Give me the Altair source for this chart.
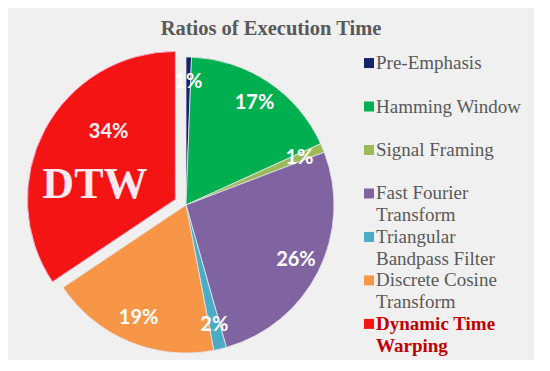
import altair as alt
import pandas as pd

names = ["Pre-Emphasis", "Hamming Window", "Signal Framing", "Fast Fourier Transform",
         "Triangular Bandpass Filter", "Discrete Cosine Transform", "Dynamic Time Warping"]
values = [0.6, 17.6, 1.0, 26.4, 1.4, 18.6, 34.4]
pct_labels = ["1%", "17%", "1%", "26%", "2%", "19%", "34%"]
legend_lines = [["Pre-Emphasis"], ["Hamming Window"], ["Signal Framing"],
                ["Fast Fourier", "Transform"], ["Triangular", "Bandpass Filter"],
                ["Discrete Cosine", "Transform"], ["Dynamic Time", "Warping"]]
colors = ["#14246a", "#00b050", "#9bbb59", "#8064a2", "#4bacc6", "#f79646", "#f51414"]
legend_colors = ["#14246a", "#3f9a5e", "#9bbb59", "#7b68a8", "#4f9fcf", "#d9a050", "#9a3a2a"]

SERIF = "Liberation Serif"

df = pd.DataFrame({
    "name": names,
    "value": values,
    "label": pct_labels,
    "lines": legend_lines,
    "order": list(range(len(names))),
})

DTW = "Dynamic Time Warping"
R = 148
EX, EY = -10.6, -5.6

base = alt.Chart(df).transform_window(
    cum="sum(value)", sort=[alt.SortField("order")], frame=[None, 0]
).transform_calculate(
    start="datum.cum - datum.value",
    mid="datum.cum - datum.value / 2",
)

theta_scale = alt.Scale(domain=[0, 100])
color_enc = alt.Color("name:N", scale=alt.Scale(domain=names, range=colors), legend=None)

pie_rest = base.transform_filter(alt.datum.name != DTW).mark_arc(
    radius=R, stroke="#e6e6ee", strokeWidth=0.8
).encode(
    theta=alt.Theta("start:Q", scale=theta_scale),
    theta2="cum:Q",
    color=color_enc,
)

pie_dtw = base.transform_filter(alt.datum.name == DTW).mark_arc(
    radius=R, xOffset=EX, yOffset=EY, stroke="#f4b0d0", strokeWidth=1
).encode(
    theta=alt.Theta("start:Q", scale=theta_scale),
    theta2="cum:Q",
    color=color_enc,
)

lbl_rest = base.transform_filter(alt.datum.name != DTW).mark_text(
    radius=123, font="Lato", fontSize=20, fontWeight="bold", color="white",
    align="center", baseline="middle"
).encode(
    theta=alt.Theta("mid:Q", scale=theta_scale),
    text="label:N",
)

lbl_dtw = base.transform_filter(alt.datum.name == DTW).mark_text(
    radius=95, xOffset=EX, yOffset=EY, dx=17, dy=-23, font="Lato", fontSize=20,
    fontWeight="bold", color="#fdf0f4", align="center", baseline="middle"
).encode(
    theta=alt.Theta("mid:Q", scale=theta_scale),
    text="label:N",
)

big_dtw = base.transform_filter(alt.datum.name == DTW).mark_text(
    radius=81, xOffset=EX, yOffset=EY, dx=-9, dy=24, font=SERIF, fontSize=44,
    fontWeight="bold", color="#fde8f0", align="center", baseline="middle"
).encode(
    theta=alt.Theta("mid:Q", scale=theta_scale),
    text=alt.value("DTW"),
)

pie = alt.layer(pie_rest, pie_dtw, lbl_rest, lbl_dtw, big_dtw).properties(width=356, height=310)

y_enc = alt.Y("order:Q", scale=alt.Scale(domain=[-0.3, 6.83], reverse=True), axis=None)

leg_sq = alt.Chart(df).mark_square(size=100, opacity=1).encode(
    x=alt.value(5),
    y=y_enc,
    color=alt.Color("name:N", scale=alt.Scale(domain=names, range=legend_colors), legend=None),
)
leg_txt = alt.Chart(df).transform_filter(alt.datum.name != DTW).mark_text(
    align="left", baseline="alphabetic", dy=6, font=SERIF, fontSize=19,
    color="#595959", lineHeight=22
).encode(x=alt.value(12), y=y_enc, text="lines")
leg_txt_dtw = alt.Chart(df).transform_filter(alt.datum.name == DTW).mark_text(
    align="left", baseline="alphabetic", dy=6, font=SERIF, fontSize=19,
    fontWeight="bold", color="#c00000", lineHeight=22
).encode(x=alt.value(12), y=y_enc, text="lines")

legend = alt.layer(leg_sq, leg_txt, leg_txt_dtw).properties(width=170, height=310)

chart = alt.hconcat(pie, legend, spacing=0).properties(
    title=alt.TitleParams(
        "Ratios of Execution Time", font=SERIF, fontSize=20.5,
        fontWeight="bold", color="#595959", anchor="middle", offset=10,
    ),
    padding={"left": 0, "top": 10, "right": 0, "bottom": 0},
    background="#f0f0f0",
).configure_view(stroke=None)

chart.save("out.html", embed_options={"renderer": "svg", "actions": False})
